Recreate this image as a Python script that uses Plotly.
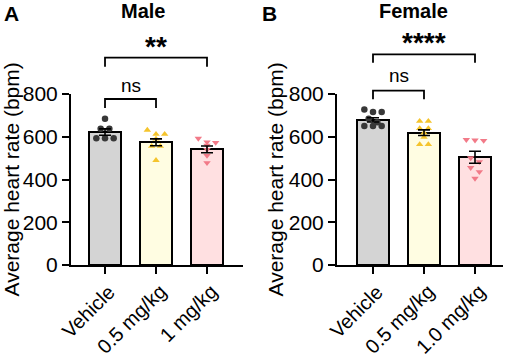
import plotly.graph_objects as go

# ---------------- data ----------------
male_categories = ["Vehicle", "0.5 mg/kg", "1 mg/kg"]
female_categories = ["Vehicle", "0.5 mg/kg", "1.0 mg/kg"]
y_tick_values = [0, 200, 400, 600, 800]

male_mean = [622, 574, 541]
male_sem = [15, 16, 16]
female_mean = [679, 619, 504]
female_sem = [10, 13, 28]

male_vehicle = [684, 637, 637, 593, 593, 593]
male_low = [631, 612, 612, 590, 556, 556, 490]
male_high = [592, 575, 573, 560, 540, 512, 478]

female_vehicle = [727, 716, 716, 684, 668, 650, 650, 650]
female_low = [673, 673, 639, 639, 618, 598, 564, 564]
female_high = [586, 584, 582, 501, 483, 455, 436, 405]

male_sig = ["ns", "**"]
female_sig = ["ns", "****"]

# ---------------- styles ----------------
FONT = "Liberation Sans, Arial, sans-serif"
bar_fill = ["#d4d4d4", "#fffde2", "#ffe0e1"]
pt_color = ["#383838", "#f5c42c", "#f27a88"]
pt_symbol = ["circle", "triangle-up", "triangle-down"]
W, H = 512, 357
T, B = 94, 92
PH = H - T - B


def py(p):
    """pixel row -> paper y"""
    return (H - B - p) / PH


def swarm(vals, center, spacing=0.17, binw=20):
    xs = [None] * len(vals)
    order = sorted(range(len(vals)), key=lambda i: -vals[i])
    groups = []
    for i in order:
        if groups and vals[groups[-1][0]] - vals[i] < binw:
            groups[-1].append(i)
        else:
            groups.append([i])
    for g in groups:
        n = len(g)
        for k, i in enumerate(g):
            xs[i] = center + (k - (n - 1) / 2) * spacing
    return xs


fig = go.Figure()

panels = [
    ("x", "y", male_mean, male_sem, [male_vehicle, male_low, male_high]),
    ("x2", "y2", female_mean, female_sem, [female_vehicle, female_low, female_high]),
]
for xa, ya, mean, sem, groups in panels:
    fig.add_trace(go.Bar(
        x=[0, 1, 2], y=mean, width=0.63, xaxis=xa, yaxis=ya,
        marker=dict(color=bar_fill, line=dict(color="black", width=2)),
        showlegend=False, hoverinfo="skip"))
    for gi, vals in enumerate(groups):
        fig.add_trace(go.Scatter(
            x=swarm(vals, gi), y=vals, mode="markers", xaxis=xa, yaxis=ya,
            marker=dict(symbol=pt_symbol[gi], size=6.5, color=pt_color[gi], line=dict(width=0)),
            showlegend=False, cliponaxis=False))
    fig.add_trace(go.Scatter(
        x=[0, 1, 2], y=mean, mode="markers", xaxis=xa, yaxis=ya,
        marker=dict(size=1, color="rgba(0,0,0,0)"),
        error_y=dict(type="data", array=sem, color="black", thickness=1.6, width=6),
        showlegend=False, hoverinfo="skip"))

axis_common = dict(showline=True, linecolor="black", linewidth=2, ticks="outside",
                   ticklen=7, tickwidth=2, tickcolor="black", showgrid=False,
                   zeroline=False, automargin=False)
yfont = dict(family=FONT, size=21, color="black")
xfont = dict(family=FONT, size=20, color="black")

fig.update_layout(
    width=W, height=H, plot_bgcolor="white", paper_bgcolor="white",
    margin=dict(l=0, r=0, t=T, b=B, autoexpand=False), bargap=0,
    xaxis=dict(domain=[71 / W, 243 / W], range=[-0.667, 2.706], tickvals=[0, 1, 2],
               showticklabels=False, anchor="y", **axis_common),
    yaxis=dict(domain=[0, 1], range=[0, 800], tickvals=y_tick_values, anchor="x",
               tickfont=yfont, **axis_common),
    xaxis2=dict(domain=[337 / W, 503 / W], range=[-0.706, 2.549], tickvals=[0, 1, 2],
                showticklabels=False, anchor="y2", **axis_common),
    yaxis2=dict(domain=[0, 1], range=[0, 800], tickvals=y_tick_values, anchor="x2",
                tickfont=yfont, **axis_common),
)

ann = []
shapes = []
for xa, cats in [("x", male_categories), ("x2", female_categories)]:
    for i, c in enumerate(cats):
        ann.append(dict(x=i, y=py(279), xref=xa, yref="paper", text=c, textangle=-45,
                        showarrow=False, font=xfont, xanchor="right", yanchor="top",
                        xshift=16, borderpad=0))

for xa, sig, ns_y, big_y, ns_t, big_t in [
    ("x", male_sig, (99, 108), (57.7, 66.7), 85, 47),
    ("x2", female_sig, (90.7, 99.3), (54.3, 62.7), 76, 43),
]:
    for (x0, x1), (yh, yl) in [((0, 1), ns_y), ((0, 2), big_y)]:
        shapes.append(dict(type="path", xref=xa, yref="paper",
                           path=f"M {x0},{py(yl)} L {x0},{py(yh)} L {x1},{py(yh)} L {x1},{py(yl)}",
                           line=dict(color="black", width=1.8)))
    ann.append(dict(x=0.5, y=py(ns_t), xref=xa, yref="paper", text=sig[0], showarrow=False,
                    font=dict(family=FONT, size=19, color="black"), xanchor="center", yanchor="middle"))
    ann.append(dict(x=1, y=py(big_t), xref=xa, yref="paper", text=f"<b>{sig[1]}</b>", showarrow=False,
                    font=dict(family=FONT, size=28, color="black"), xanchor="center", yanchor="middle"))

for txt, xp in [("A", 11.5), ("B", 269)]:
    ann.append(dict(x=xp / W, y=py(13), xref="paper", yref="paper", text=f"<b>{txt}</b>",
                    showarrow=False, font=dict(family=FONT, size=21, color="black"),
                    xanchor="center", yanchor="middle"))
for txt, xp in [("Male", 143), ("Female", 413)]:
    ann.append(dict(x=xp / W, y=py(11), xref="paper", yref="paper", text=f"<b>{txt}</b>",
                    showarrow=False, font=dict(family=FONT, size=20, color="black"),
                    xanchor="center", yanchor="middle"))
for xp in [11, 275]:
    ann.append(dict(x=xp / W, y=0.5, xref="paper", yref="paper", text="Average heart rate (bpm)",
                    textangle=-90, showarrow=False, font=dict(family=FONT, size=21, color="black"),
                    xanchor="center", yanchor="middle"))

fig.update_layout(annotations=ann, shapes=shapes)
fig.write_html("out.html", config={"displayModeBar": False},
               post_script="document.body.style.margin='0';document.body.style.overflow='hidden';")
